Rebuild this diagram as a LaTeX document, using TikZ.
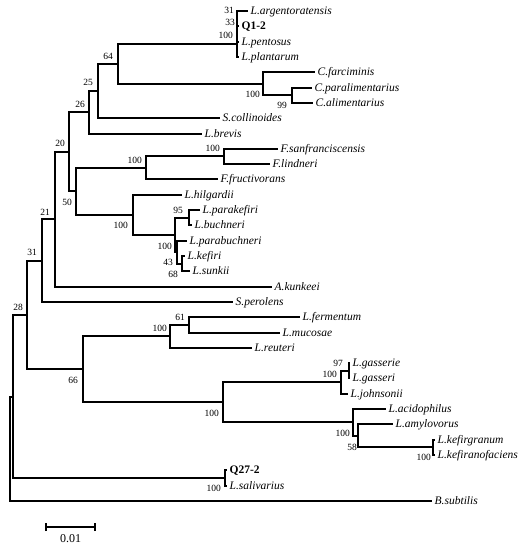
\documentclass[tikz,border=0pt]{standalone}
\usepackage{fontspec}
\setmainfont{Liberation Serif}
\begin{document}
\begin{tikzpicture}[x=1pt,y=-1pt,
  branch/.style={line width=2pt},
  tip/.style={anchor=west,inner xsep=2.5pt,inner ysep=0pt,text height=8pt,text depth=2pt,font=\fontsize{11.5}{12}\selectfont\itshape},
  tipbold/.style={tip,font=\fontsize{11.5}{12}\selectfont\bfseries},
  boot/.style={anchor=east,inner sep=0pt,text height=6.5pt,text depth=0pt,font=\fontsize{9.5}{10}\selectfont}]
\useasboundingbox (0,0) rectangle (526,550);
% tips
\node[tip] (arg) at (248,11) {L.argentoratensis};
\node[tipbold] (q12) at (239,26) {Q1-2};
\node[tip] (pent) at (239,42) {L.pentosus};
\node[tip] (plant) at (239,57) {L.plantarum};
\node[tip] (farc) at (315,72) {C.farciminis};
\node[tip] (paral) at (312,88) {C.paralimentarius};
\node[tip] (alim) at (313,103) {C.alimentarius};
\node[tip] (scoll) at (220,118) {S.collinoides};
\node[tip] (brev) at (202,134) {L.brevis};
\node[tip] (fsan) at (278,149) {F.sanfranciscensis};
\node[tip] (flind) at (270,164) {F.lindneri};
\node[tip] (ffruc) at (218,179) {F.fructivorans};
\node[tip] (hilg) at (182,195) {L.hilgardii};
\node[tip] (parak) at (200,210) {L.parakefiri};
\node[tip] (buch) at (192,225) {L.buchneri};
\node[tip] (parab) at (187,241) {L.parabuchneri};
\node[tip] (kef) at (185,256) {L.kefiri};
\node[tip] (sunk) at (190,271) {L.sunkii};
\node[tip] (kunk) at (272,287) {A.kunkeei};
\node[tip] (perol) at (233,302) {S.perolens};
\node[tip] (ferm) at (300,317) {L.fermentum};
\node[tip] (muc) at (280,333) {L.mucosae};
\node[tip] (reut) at (252,348) {L.reuteri};
\node[tip] (gase) at (350,363) {L.gasserie};
\node[tip] (gas) at (350,378) {L.gasseri};
\node[tip] (john) at (348,394) {L.johnsonii};
\node[tip] (acid) at (386,409) {L.acidophilus};
\node[tip] (amyl) at (393,424) {L.amylovorus};
\node[tip] (kgr) at (435,440) {L.kefirgranum};
\node[tip] (kfa) at (435,455) {L.kefiranofaciens};
\node[tipbold] (q272) at (227,470) {Q27-2};
\node[tip] (saliv) at (227,486) {L.salivarius};
\node[tip] (bsub) at (432,501) {B.subtilis};
% internal nodes
\coordinate (root) at (10,449);
\coordinate (n28) at (13,397);
\coordinate (nsal) at (225,478);
\coordinate (n267) at (27,315);
\coordinate (n423) at (42,261);
\coordinate (n66) at (83,369);
\coordinate (n55) at (55,219);
\coordinate (n70) at (69,152);
\coordinate (n26) at (89,112);
\coordinate (n25) at (98,91);
\coordinate (n64) at (118,64);
\coordinate (npl) at (237,44);
\coordinate (npe) at (237,30);
\coordinate (nar) at (237,19);
\coordinate (nc) at (263,84);
\coordinate (npa) at (292,95);
\coordinate (n50) at (76,191);
\coordinate (nf) at (146,168);
\coordinate (nfs) at (224,156);
\coordinate (nh) at (133,215);
\coordinate (ni) at (175,235);
\coordinate (npk) at (189,218);
\coordinate (n43) at (177,252);
\coordinate (nks) at (182,264);
\coordinate (nr) at (170,336);
\coordinate (nfm) at (189,325);
\coordinate (nbig) at (223,402);
\coordinate (ngj) at (341,382);
\coordinate (ngg) at (349,371);
\coordinate (nac) at (353,422);
\coordinate (n58) at (358,436);
\coordinate (nkk) at (433,447);
% branches
\draw[branch] (root) |- (n28); \draw[branch] (root) |- (bsub.west);
\draw[branch] (n28) |- (n267); \draw[branch] (n28) |- (nsal);
\draw[branch] (nsal) |- (q272.west); \draw[branch] (nsal) |- (saliv.west);
\draw[branch] (n267) |- (n423); \draw[branch] (n267) |- (n66);
\draw[branch] (n423) |- (n55); \draw[branch] (n423) |- (perol.west);
\draw[branch] (n55) |- (n70); \draw[branch] (n55) |- (kunk.west);
\draw[branch] (n70) |- (n26); \draw[branch] (n70) |- (n50);
\draw[branch] (n26) |- (n25); \draw[branch] (n26) |- (brev.west);
\draw[branch] (n25) |- (n64); \draw[branch] (n25) |- (scoll.west);
\draw[branch] (n64) |- (npl); \draw[branch] (n64) |- (nc);
\draw[branch] (npl) |- (npe); \draw[branch] (npl) |- (plant.west);
\draw[branch] (npe) |- (nar); \draw[branch] (npe) |- (pent.west);
\draw[branch] (nar) |- (arg.west); \draw[branch] (nar) |- (q12.west);
\draw[branch] (nc) |- (farc.west); \draw[branch] (nc) |- (npa);
\draw[branch] (npa) |- (paral.west); \draw[branch] (npa) |- (alim.west);
\draw[branch] (n50) |- (nf); \draw[branch] (n50) |- (nh);
\draw[branch] (nf) |- (nfs); \draw[branch] (nf) |- (ffruc.west);
\draw[branch] (nfs) |- (fsan.west); \draw[branch] (nfs) |- (flind.west);
\draw[branch] (nh) |- (hilg.west); \draw[branch] (nh) |- (ni);
\draw[branch] (ni) |- (npk); \draw[branch] (ni) |- (n43);
\draw[branch] (npk) |- (parak.west); \draw[branch] (npk) |- (buch.west);
\draw[branch] (n43) |- (parab.west); \draw[branch] (n43) |- (nks);
\draw[branch] (nks) |- (kef.west); \draw[branch] (nks) |- (sunk.west);
\draw[branch] (n66) |- (nr); \draw[branch] (n66) |- (nbig);
\draw[branch] (nr) |- (nfm); \draw[branch] (nr) |- (reut.west);
\draw[branch] (nfm) |- (ferm.west); \draw[branch] (nfm) |- (muc.west);
\draw[branch] (nbig) |- (ngj); \draw[branch] (nbig) |- (nac);
\draw[branch] (ngj) |- (ngg); \draw[branch] (ngj) |- (john.west);
\draw[branch] (ngg) |- (gase.west); \draw[branch] (ngg) |- (gas.west);
\draw[branch] (nac) |- (acid.west); \draw[branch] (nac) |- (n58);
\draw[branch] (n58) |- (amyl.west); \draw[branch] (n58) |- (nkk);
\draw[branch] (nkk) |- (kgr.west); \draw[branch] (nkk) |- (kfa.west);
% bootstrap values
\node[boot] (b1) at (234,10) {31};
\node[boot] (b2) at (235,22) {33};
\node[boot] (b3) at (233,35) {100};
\node[boot] (b4) at (113,56) {64};
\node[boot] (b5) at (93,82) {25};
\node[boot] (b6) at (85,104) {26};
\node[boot] (b7) at (65,143) {20};
\node[boot] (b8) at (72,202) {50};
\node[boot] (b9) at (142,160) {100};
\node[boot] (b10) at (220,148) {100};
\node[boot] (b11) at (128,225) {100};
\node[boot] (b12) at (183,210) {95};
\node[boot] (b13) at (172,246) {100};
\node[boot] (b14) at (173,262) {43};
\node[boot] (b15) at (178,274) {68};
\node[boot] (b16) at (50,212) {21};
\node[boot] (b17) at (37,252) {31};
\node[boot] (b18) at (23,307) {28};
\node[boot] (b19) at (78,380) {66};
\node[boot] (b20) at (167,328) {100};
\node[boot] (b21) at (185,317) {61};
\node[boot] (b22) at (219,413) {100};
\node[boot] (b23) at (343,363) {97};
\node[boot] (b24) at (337,374) {100};
\node[boot] (b25) at (350,433) {100};
\node[boot] (b26) at (357,447) {58};
\node[boot] (b27) at (431,457) {100};
\node[boot] (b28) at (221,488) {100};
\node[boot] (b29) at (260,94) {100};
\node[boot] (b30) at (287,105) {99};
% scale bar
\coordinate (sbl) at (46,527);
\coordinate (sbr) at (95,527);
\draw[branch] (sbl) -- (sbr);
\draw[branch] ([yshift=-4pt]sbl) -- ([yshift=4pt]sbl);
\draw[branch] ([yshift=-4pt]sbr) -- ([yshift=4pt]sbr);
\node[font=\fontsize{12}{13}\selectfont,inner sep=0pt] (sblab) at (70.5,539) {0.01};
\end{tikzpicture}
\end{document}
